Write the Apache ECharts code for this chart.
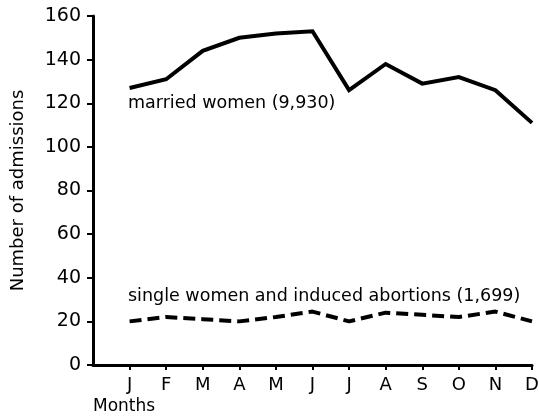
<!DOCTYPE html>
<html><head><meta charset="utf-8">
<script src="https://cdn.jsdelivr.net/npm/echarts@6/dist/echarts.min.js"></script>
<style>html,body{margin:0;padding:0;background:#fff}#c{width:539px;height:418px}</style>
</head><body><div id="c"></div>
<script>
const months = ['', 'J', 'F', 'M', 'A', 'M', 'J', 'J', 'A', 'S', 'O', 'N', 'D'];
const married = [null, 127, 131, 144, 150, 152, 153, 126, 138, 129, 132, 126, 111];
const single = [null, 20, 22, 21, 20, 22, 24.5, 20, 24, 23, 22, 24.5, 20];
const yTicks = [0, 20, 40, 60, 80, 100, 120, 140, 160];
const marriedLabel = 'married women (9,930)';
const singleLabel = 'single women and induced abortions (1,699)';
const FONT = 'DejaVu Sans';
const chart = echarts.init(document.getElementById('c'));
chart.setOption({
  animation: false,
  backgroundColor: '#fff',
  grid: {left: 93, right: 7, top: 16, bottom: 53, outerBoundsMode: 'none', containLabel: false},
  xAxis: {
    type: 'category', data: months, boundaryGap: false,
    axisLine: {lineStyle: {color: '#000', width: 3}},
    axisTick: {show: true, length: 5, lineStyle: {color: '#000', width: 2}, interval: i => i > 0},
    axisLabel: {color: '#000', fontFamily: FONT, fontSize: 18, margin: 11, interval: 0},
    splitLine: {show: false}
  },
  yAxis: {
    type: 'value', min: 0, max: 160, interval: 20,
    name: 'Number of admissions', nameLocation: 'middle', nameGap: 66, nameRotate: 90,
    nameTextStyle: {color: '#000', fontFamily: FONT, fontSize: 18},
    axisLine: {show: true, lineStyle: {color: '#000', width: 3}},
    axisTick: {show: true, inside: false, length: 6, lineStyle: {color: '#000', width: 2}},
    axisLabel: {color: '#000', fontFamily: FONT, fontSize: 19, margin: 12,
      formatter: v => yTicks.includes(v) ? String(v) : ''},
    splitLine: {show: false}
  },
  series: [
    {type: 'line', data: married, symbol: 'none', connectNulls: false,
      lineStyle: {color: '#000', width: 4, join: 'miter'}},
    {type: 'line', data: single, symbol: 'none',
      lineStyle: {color: '#000', width: 4, type: [12, 6]}}
  ],
  graphic: [
    {type: 'text', left: 128, top: 94, style: {text: marriedLabel, fill: '#000', font: '17.5px "DejaVu Sans"'}},
    {type: 'text', left: 128, top: 287, style: {text: singleLabel, fill: '#000', font: '17.5px "DejaVu Sans"'}},
    {type: 'text', left: 93, top: 398, style: {text: 'Months', fill: '#000', font: '17px "DejaVu Sans"'}}
  ]
});
</script></body></html>
